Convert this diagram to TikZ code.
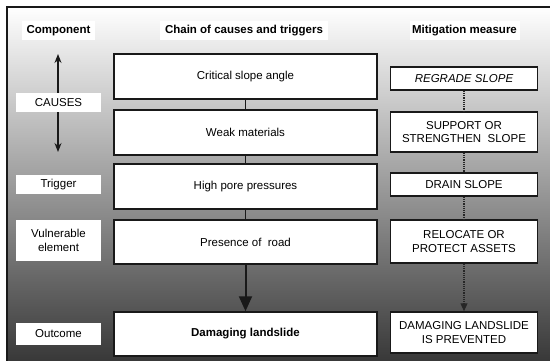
\documentclass[tikz,border=0pt]{standalone}
\usepackage{fontspec}
\setmainfont{Liberation Sans}
\usetikzlibrary{arrows.meta,calc}
\begin{document}
\begin{tikzpicture}[x=1pt,y=-1pt,
  every node/.style={font=\fontsize{11.5}{13.5}\selectfont, inner sep=0pt, align=center},
  midbox/.style={draw=black!90, line width=1.5pt, fill=white, minimum width=263pt},
  rbox/.style={draw=black!90, line width=1.5pt, fill=white, minimum width=147pt},
  lbox/.style={fill=white, minimum width=85pt},
  hbox/.style={fill=white, minimum height=19pt, font=\fontsize{11.5}{13.5}\selectfont\bfseries},
  link/.style={line width=1.5pt, black!90},
  dotlink/.style={line width=1.2pt, black!85, densely dotted}
]
\useasboundingbox (0,0) rectangle (550,361);
\fill[white] (0,0) rectangle (550,361);
\shade[top color=white, bottom color=black!78] (7,7) rectangle (550,361);
\draw[line width=2pt, black!90] (7,362) -- (7,7) -- (551,7);

% headers
\node[hbox, minimum width=73pt] (h1) at (58.5,30.5) {Component};
\node[hbox, minimum width=168pt] (h2) at (244,30.5) {Chain of causes and triggers};
\node[hbox, minimum width=110pt] (h3) at (464.5,30.5) {Mitigation measure};

% left causes arrow
\coordinate (ca) at (58,54);
\coordinate (cb) at (58,152);
\draw[line width=1.2pt, black!90, {Stealth[length=9pt,width=7pt]}-{Stealth[length=9pt,width=7pt]}] (ca) -- (cb);

% left labels
\node[lbox, minimum height=19pt] (l1) at (58.5,102.5) {CAUSES};
\node[lbox, minimum height=19pt] (l2) at (58.5,184.5) {Trigger};
\node[lbox, minimum height=41pt] (l3) at (58.5,240.5) {Vulnerable\\element};
\node[lbox, minimum height=22pt] (l4) at (58.5,334) {Outcome};

% middle chain
\node[midbox, minimum height=45pt] (m1) at (245.5,76.5) {Critical slope angle};
\node[midbox, minimum height=45pt] (m2) at (245.5,132.5) {Weak materials};
\node[midbox, minimum height=45pt] (m3) at (245.5,186.5) {High pore pressures};
\node[midbox, minimum height=44pt] (m4) at (245.5,242) {Presence of~ road};
\node[midbox, minimum height=44pt, font=\fontsize{11.5}{13.5}\selectfont\bfseries] (m5) at (245.5,334) {Damaging landslide};

\draw[link] (m1.south) -- (m2.north);
\draw[link] (m2.south) -- (m3.north);
\draw[link] (m3.south) -- (m4.north);
\draw[line width=2pt, black!90, -{Triangle[length=15pt,width=13pt]}] (m4.south) -- (m5.north);

% right mitigation
\node[rbox, minimum height=23pt, font=\fontsize{11.5}{13.5}\selectfont\itshape] (r1) at (464,78.5) {REGRADE SLOPE};
\node[rbox, minimum height=40pt] (r2) at (464,132) {SUPPORT OR\\STRENGTHEN~ SLOPE};
\node[rbox, minimum height=23pt] (r3) at (464,184.5) {DRAIN SLOPE};
\node[rbox, minimum height=43pt] (r4) at (464,241.5) {RELOCATE OR\\PROTECT ASSETS};
\node[rbox, minimum height=41pt] (r5) at (464,332.5) {DAMAGING LANDSLIDE\\IS PREVENTED};

\draw[dotlink] (r1.south) -- (r2.north);
\draw[dotlink] (r2.south) -- (r3.north);
\draw[dotlink] (r3.south) -- (r4.north);
\draw[dotlink, -{Triangle[length=8pt,width=7pt]}] (r4.south) -- (r5.north);
\end{tikzpicture}
\end{document}
